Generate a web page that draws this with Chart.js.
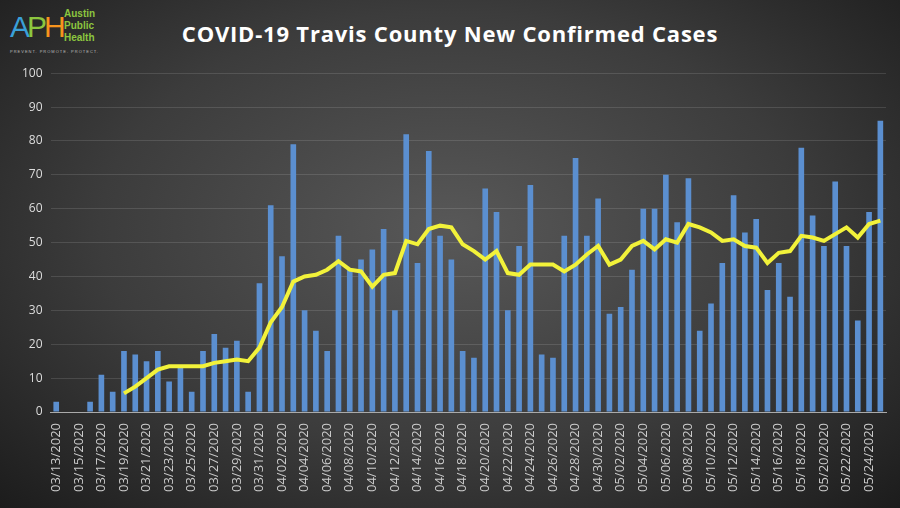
<!DOCTYPE html>
<html><head><meta charset="utf-8">
<script src="https://cdn.jsdelivr.net/npm/chart.js@4"></script>
<style>
html,body{margin:0;padding:0;width:900px;height:508px;overflow:hidden;}
body{background:radial-gradient(ellipse at 50% 45%,#585858 0%,#3c3c3c 55%,#1c1c1c 100%);font-family:"Open Sans",sans-serif;position:relative;}
#logo{position:absolute;left:10px;top:6px;}
#aph{position:absolute;left:0;top:4px;font:30px "Liberation Sans",sans-serif;letter-spacing:-3px;}
#aph span:nth-child(1){color:#3aa0d8}#aph span:nth-child(2){color:#8cc63f}#aph span:nth-child(3){color:#f7941d}
#aphtxt{position:absolute;left:54px;top:2px;color:#8cc63f;font:bold 10px/12px "Liberation Sans",sans-serif;}
#tag{position:absolute;left:0;top:43px;color:#bbb;font:4px sans-serif;letter-spacing:1px;white-space:nowrap;}
#title{position:absolute;left:0;width:900px;top:18px;text-align:center;color:#fff;font:bold 22px "Open Sans",sans-serif;letter-spacing:0.8px;}
#wrap{position:absolute;left:0;top:58px;width:900px;height:450px;}
</style></head><body>
<div id="logo"><div id="aph"><span>A</span><span>P</span><span>H</span></div><div id="aphtxt">Austin<br>Public<br>Health</div><div id="tag">PREVENT. PROMOTE. PROTECT.</div></div>
<div id="title">COVID-19 Travis County New Confirmed Cases</div>
<div id="wrap"><canvas id="c" width="900" height="450"></canvas></div>
<script>
const startDate = "2020-03-13";
const cases = [3,0,0,3,11,6,18,17,15,18,9,13,6,18,23,19,21,6,38,
61,46,79,30,24,18,52,42,45,48,54,30,82,44,77,52,45,18,16,66,59,30,49,67,17,16,52,75,52,63,
29,31,42,60,60,70,56,69,24,32,44,64,53,57,36,44,34,78,58,49,68,49,27,59,86];
const avg = [null,null,null,null,null,null,5.5,7.5,10,12.5,13.5,13.5,13.5,13.5,14.5,15,15.5,15,19,
26.5,31,38.5,40,40.5,42,44.5,42,41.5,37,40.5,41,50.5,49.5,54,55,54.5,49.5,47.5,45,47.5,41,40.5,43.5,43.5,43.5,41.5,43.5,46.5,49,
43.5,45,49,50.5,48,51,50,55.5,54.5,53,50.5,51,49,48.5,44,47,47.5,52,51.5,50.5,52.5,54.5,51.5,55.5,56.5];
const labels = [];
{const d=new Date(startDate+"T12:00:00Z");for(let i=0;i<cases.length;i++){const m=String(d.getUTCMonth()+1).padStart(2,"0"),dd=String(d.getUTCDate()).padStart(2,"0");labels.push(m+"/"+dd+"/2020");d.setUTCDate(d.getUTCDate()+1);}}
new Chart(document.getElementById("c"),{
 data:{labels,datasets:[
  {type:"line",data:avg,borderColor:"#f2f23a",borderWidth:4,pointRadius:0,tension:0,order:0},
  {type:"bar",data:cases,backgroundColor:"#5b8fd0",barPercentage:0.5,categoryPercentage:1,order:1}
 ]},
 options:{responsive:false,animation:false,
  layout:{padding:{left:14,right:14,top:4,bottom:13}},
  plugins:{legend:{display:false},tooltip:{enabled:false}},
  scales:{
   x:{grid:{display:false},border:{color:"#aaa"},
      ticks:{color:"#ccc",font:{size:13,family:"Open Sans"},maxRotation:90,minRotation:90,autoSkip:false,
        callback:(v,i)=>i%2===0?labels[i]:""}},
   y:{min:0,max:100,ticks:{stepSize:10,color:"#ddd",font:{size:12,family:"Open Sans"},padding:8},
      grid:{color:"rgba(255,255,255,0.12)",drawTicks:false},border:{display:false}}
  }}
});
</script></body></html>
